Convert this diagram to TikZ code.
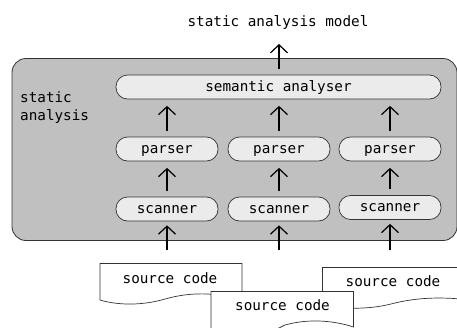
\documentclass[tikz,border=0pt]{standalone}
\usepackage{xcolor}
\usepackage{fontspec}
\setmonofont{DejaVu Sans Mono}
\usetikzlibrary{arrows.meta}
\definecolor{panelgrey}{HTML}{C0C0C0}
\definecolor{boxgrey}{HTML}{EBEBEB}
\definecolor{edgegrey}{HTML}{333333}
\begin{document}
\begin{tikzpicture}[x=1pt,y=-1pt,every node/.style={font=\ttfamily\fontsize{14.3}{17.5}\selectfont}]
        \useasboundingbox (0,0) rectangle (457,327);
        \clip (0,0) rectangle (457,327);
        \tikzset{fleche/.style={-{Straight Barb[length=8pt,width=17pt]},line width=1.2pt,shorten <=6pt,shorten >=6.5pt}}
        \tikzset{etape/.style={draw=edgegrey,fill=boxgrey,rounded corners=11.5pt,line width=0.7pt,minimum height=24pt,text height=11pt,text depth=3pt,inner sep=0pt}}
        \tikzset{feuille/.style={draw=edgegrey,fill=white,line width=0.7pt}}
        \draw[draw=edgegrey,fill=panelgrey,rounded corners=14pt,line width=0.8pt] (12,58.5) rectangle (457,240.5);
        \begin{scope}
        \clip (0,0) rectangle (366.5,60);
        \node (model) at (278,23) {static analysis model};
        \end{scope}
        \begin{scope}
        \clip (0,60) rectangle (87,140);
        \node[align=left,anchor=north west,inner sep=0pt] (label) at (20,91.5) {static\\analysis};
        \end{scope}
        \node[etape,minimum width=325pt] (SA) at (278.5,87) {semantic analyser};
        \node[etape,minimum width=102pt] (P1) at (167,149) {parser};
        \node[etape,minimum width=102pt] (P2) at (279,149) {parser};
        \node[etape,minimum width=102pt] (P3) at (390,149) {parser};
        \node[etape,minimum width=102pt] (S1) at (167,209) {scanner};
        \node[etape,minimum width=102pt] (S2) at (279,209) {scanner};
        \node[etape,minimum width=102pt] (S3) at (390,207.5) {scanner};
        \coordinate (O) at (279,37.5);
        \coordinate (C1) at (167,256);
        \coordinate (C2) at (279,256);
        \coordinate (C3) at (390,256);
        \draw[fleche] (SA.north -| O) -- (O);
        \draw[fleche] (P1.north) -- (P1.north |- SA.south);
        \draw[fleche] (P2.north) -- (P2.north |- SA.south);
        \draw[fleche] (P3.north) -- (P3.north |- SA.south);
        \draw[fleche] (S1.north) -- (P1);
        \draw[fleche] (S2.north) -- (P2);
        \draw[fleche] (S3.north) -- (P3);
        \draw[fleche,shorten >=4pt] (C1) -- (S1);
        \draw[fleche,shorten >=4pt] (C2) -- (S2);
        \draw[fleche,shorten >=4pt] (C3) -- (S3);
        \draw[feuille] (100,263.5) -- (242,263.5) -- (242,300) .. controls (215,292) and (190,292) .. (165,299) .. controls (145,305) and (120,306) .. (100,300) -- cycle;
        \node (D1) at (170,278) {source code};
        \draw[feuille] (322.5,267.5) -- (470,267.5) -- (470,300) .. controls (445,297) and (420,297) .. (395,303) .. controls (380,307) and (365,309) .. (340,308) -- (322.5,308) -- cycle;
        \node (D3) at (393,281.5) {source code};
        \draw[feuille] (211,291.5) -- (353.5,291.5) -- (353.5,327) .. controls (335,321) and (310,318) .. (285,325) -- (275,330) -- (211,330) -- cycle;
        \node (D2) at (282.5,305.5) {source code};
\end{tikzpicture}
\end{document}
